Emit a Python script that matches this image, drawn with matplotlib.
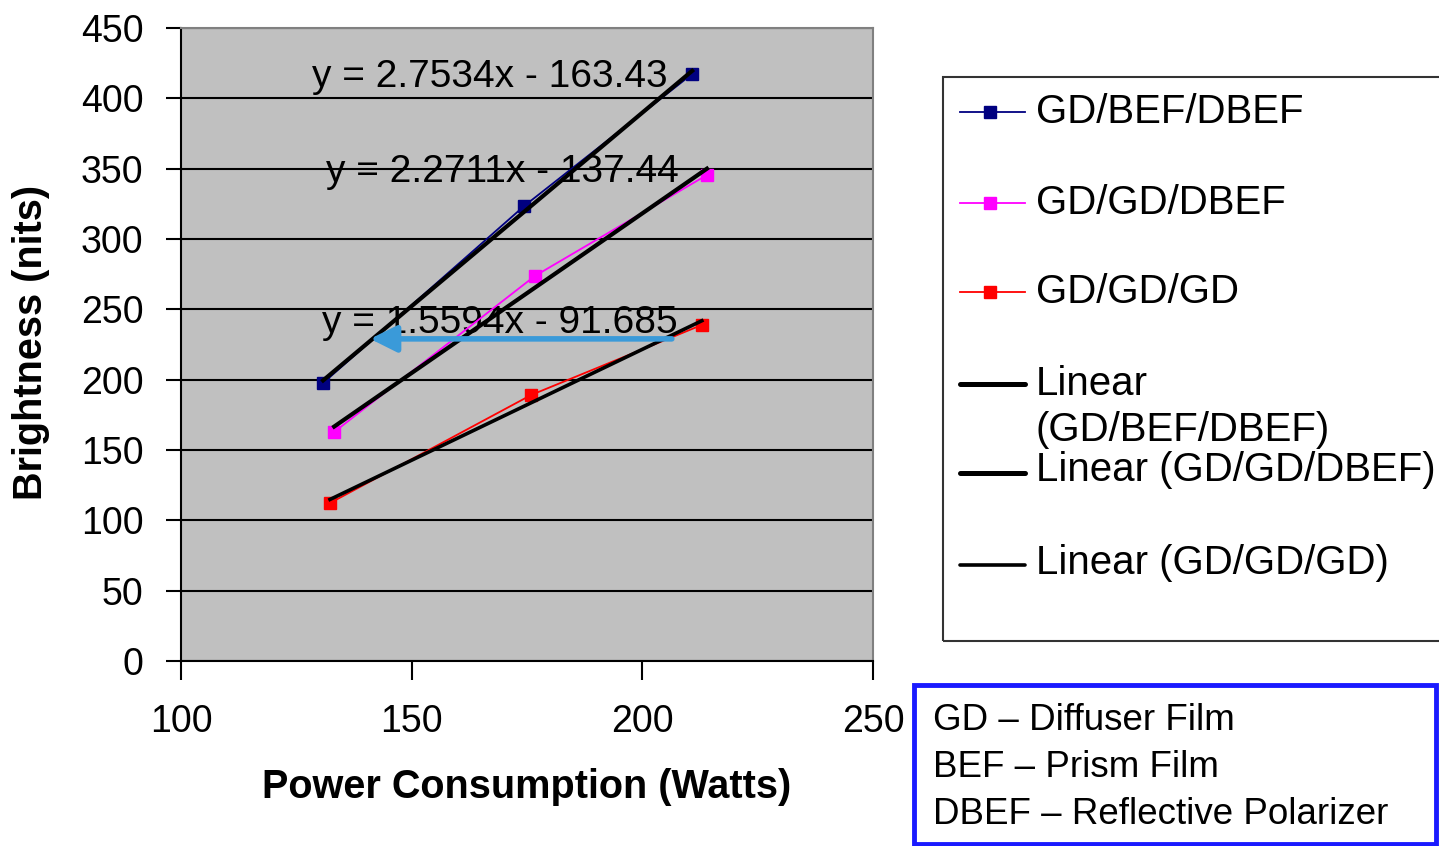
import matplotlib.pyplot as plt
import numpy as np
from matplotlib.lines import Line2D
from matplotlib.patches import Rectangle

plt.rcParams['font.family'] = ['Liberation Sans', 'DejaVu Sans']

# measured points (power in W, brightness in nits)
power_bef_dbef = [130.8, 174.4, 210.8]
bright_bef_dbef = [197.6, 323.5, 417.3]
power_gd_dbef = [133.2, 176.7, 214.0]
bright_gd_dbef = [162.8, 273.7, 345.5]
power_gd_gd = [132.3, 175.9, 212.9]
bright_gd_gd = [112.3, 189.1, 238.9]

series_names = ['GD/BEF/DBEF', 'GD/GD/DBEF', 'GD/GD/GD']
series_colors = ['#000080', '#ff00ff', '#ff0000']
trend_names = ['Linear\n(GD/BEF/DBEF)', 'Linear (GD/GD/DBEF)', 'Linear (GD/GD/GD)']
equations = ['y = 2.7534x - 163.43', 'y = 2.2711x - 137.44', 'y = 1.5594x - 91.685']
eq_pos = [(167.0, 408.0), (169.7, 340.7), (169.2, 232.9)]
arrow_from = (206.4, 229.0)
arrow_to = (141.0, 229.0)
notes = ['GD \u2013 Diffuser Film', 'BEF \u2013 Prism Film', 'DBEF \u2013 Reflective Polarizer']

W, H = 1439, 846


def fx(p):
    return p / W


def fy(p):
    return 1 - p / H


fig = plt.figure(figsize=(W / 100, H / 100), dpi=100)
ax = fig.add_axes([fx(181), fy(661), fx(873) - fx(181), fy(28) - fy(661)])
ax.set_facecolor('#c0c0c0')

xs = [power_bef_dbef, power_gd_dbef, power_gd_gd]
ys = [bright_bef_dbef, bright_gd_dbef, bright_gd_gd]
trend_lw = [3.0, 3.0, 2.6]
for x, y, c, lw in zip(xs, ys, series_colors, trend_lw):
    ax.plot(x, y, color=c, lw=1.3, marker='s', ms=9, zorder=3)
    k, b = np.polyfit(x, y, 1)
    xx = np.array([min(x), max(x)])
    ax.plot(xx, k * xx + b, color='black', lw=lw, zorder=4)

for eq, (ex, ey) in zip(equations, eq_pos):
    ax.text(ex, ey, eq, ha='center', va='baseline', fontsize=28, zorder=2)

ax.annotate('', xy=arrow_to, xytext=arrow_from,
            arrowprops=dict(arrowstyle='-|>', color='#3a9ad9', lw=4,
                            mutation_scale=40, shrinkA=0, shrinkB=0), zorder=6)

ax.set_xlim(100, 250)
ax.set_ylim(0, 450)
ax.set_xticks([100, 150, 200, 250])
ax.set_yticks(np.arange(0, 451, 50))
ax.yaxis.grid(True, color='black', lw=1.5, zorder=1)
ax.set_axisbelow(True)
ax.tick_params(axis='y', length=11, width=1.5, pad=16, labelsize=27)
ax.tick_params(axis='x', length=14, width=1.5, pad=17, labelsize=27)
for s in ['left', 'bottom']:
    ax.spines[s].set_color('black')
    ax.spines[s].set_linewidth(1.5)
for s in ['top', 'right']:
    ax.spines[s].set_color('#808080')
    ax.spines[s].set_linewidth(1.5)

ax.set_xlabel('Power Consumption (Watts)', fontsize=28.5, fontweight='bold')
ax.set_ylabel('Brightness (nits)', fontsize=28.5, fontweight='bold')
ax.xaxis.set_label_coords(0.5, -0.169)
ax.yaxis.set_label_coords(-0.19, 0.504)

# legend box
fig.add_artist(Rectangle((fx(943), fy(641)), 1, fy(77) - fy(641), transform=fig.transFigure,
                         fill=False, ec='#333333', lw=1.5))
rows = [112, 203, 292]
for name, c, r in zip(series_names, series_colors, rows):
    fig.add_artist(Line2D([fx(960), fx(1025)], [fy(r), fy(r)], color=c, lw=1.3))
    fig.add_artist(Line2D([fx(990)], [fy(r)], color=c, marker='s', ms=9, lw=0))
    fig.text(fx(1036), fy(r), name, fontsize=29, va='center', ha='left')
trend_rows = [384, 473, 565]
trend_text_rows = [407, 470, 563]
for name, r, tr, lw in zip(trend_names, trend_rows, trend_text_rows, [3.6, 3.6, 2.6]):
    fig.add_artist(Line2D([fx(960), fx(1025)], [fy(r), fy(r)], color='black', lw=lw,
                          solid_capstyle='round'))
    fig.text(fx(1036), fy(tr), name, fontsize=29, va='center', ha='left', linespacing=1.27)

# abbreviations box
fig.add_artist(Rectangle((fx(914), fy(844)), fx(1436) - fx(914), fy(685) - fy(844),
                         transform=fig.transFigure, fc='white', ec='#1a1aff', lw=3.5))
for i, t in enumerate(notes):
    fig.text(fx(933), fy(720 + 47 * i), t, fontsize=26.5, va='center', ha='left')

plt.savefig('out.png', dpi=100)
